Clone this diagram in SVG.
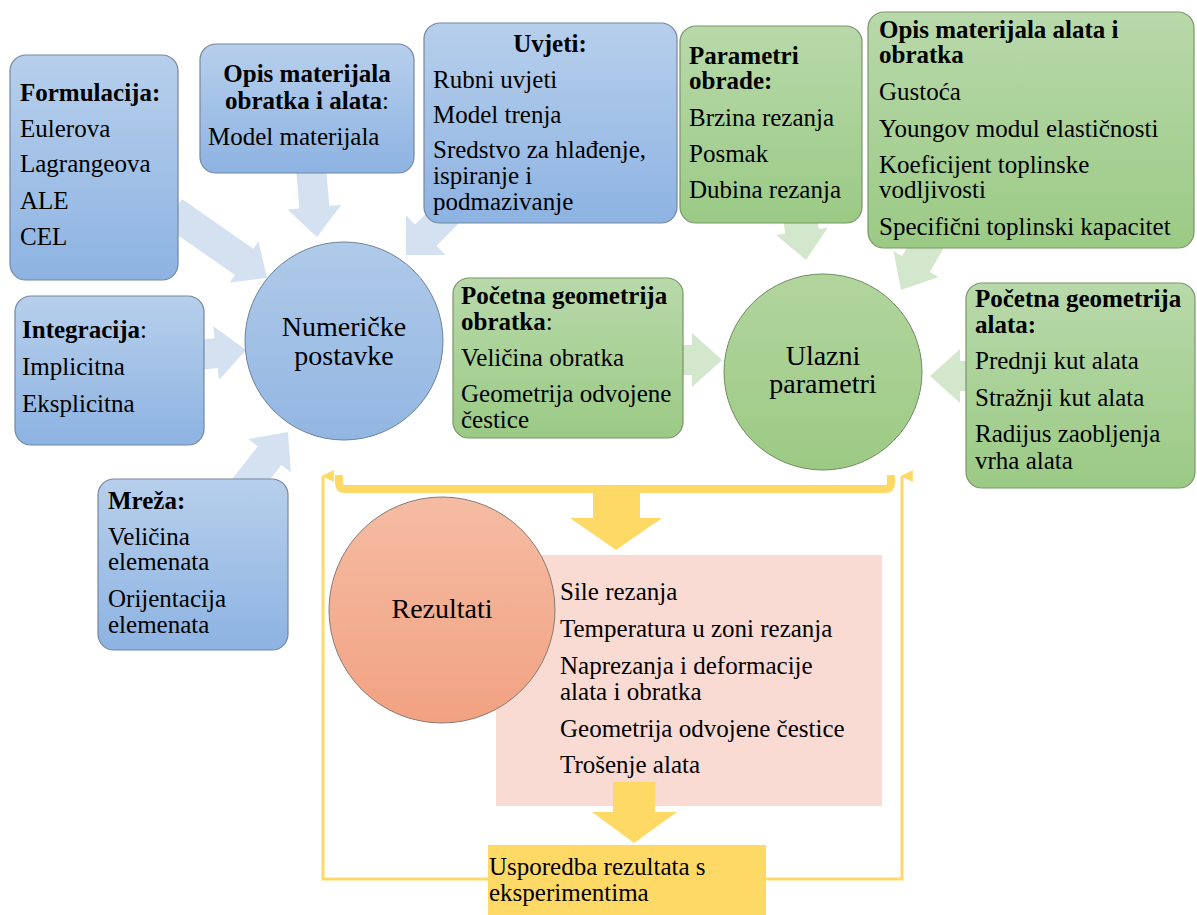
<svg xmlns="http://www.w3.org/2000/svg" width="1197" height="915" viewBox="0 0 1197 915" font-family="Liberation Serif, Times New Roman, DejaVu Serif, serif">
<defs>
<linearGradient id="gBlue" x1="0" y1="0" x2="0" y2="1"><stop offset="0" stop-color="#b7cfec"/><stop offset="1" stop-color="#8db3e2"/></linearGradient>
<linearGradient id="gGreen" x1="0" y1="0" x2="0" y2="1"><stop offset="0" stop-color="#b8d9aa"/><stop offset="1" stop-color="#9bca85"/></linearGradient>
<linearGradient id="gBlueC" x1="0" y1="0" x2="0" y2="1"><stop offset="0" stop-color="#b0cae9"/><stop offset="1" stop-color="#92b6e2"/></linearGradient>
<linearGradient id="gGreenC" x1="0" y1="0" x2="0" y2="1"><stop offset="0" stop-color="#b2d59e"/><stop offset="1" stop-color="#9cca84"/></linearGradient>
<linearGradient id="gRed" x1="0" y1="0" x2="0" y2="1"><stop offset="0" stop-color="#f5bca3"/><stop offset="1" stop-color="#f2a282"/></linearGradient>
<marker id="ya" viewBox="0 0 10 10" refX="5" refY="1" markerWidth="12" markerHeight="14" markerUnits="userSpaceOnUse" orient="auto-start-reverse">
<path d="M0,10 L5,0 L10,10 Z" fill="#ffd966"/>
</marker>
</defs>
<style>
text{font-family:'Liberation Serif','Times New Roman','DejaVu Serif',serif}
.t{font-size:25px;fill:#000}
.b{font-weight:bold}
.n{font-weight:normal}
.c{text-anchor:middle}
.big{font-size:28px}
.bb{fill:url(#gBlue);stroke:#7487a0;stroke-width:1.2}
.gb{fill:url(#gGreen);stroke:#7a9669;stroke-width:1.2}
.ba{fill:#d4e1f1}
.ga{fill:#d3e7cd}
.ya{fill:#ffd966}
.yl{fill:none;stroke:#ffd966;stroke-width:3}
</style>
<rect width="1197" height="915" fill="#fff"/>

<g id="results-list">
<rect x="496" y="555" width="386" height="251" fill="#f9dbd3"/>
<text class="t" x="560" y="600">Sile rezanja</text>
<text class="t" x="560" y="637">Temperatura u zoni rezanja</text>
<text class="t" x="560" y="674">Naprezanja i deformacije</text>
<text class="t" x="560" y="700">alata i obratka</text>
<text class="t" x="560" y="737">Geometrija odvojene čestice</text>
<text class="t" x="560" y="773">Trošenje alata</text>
</g>

<g id="connectors">
<polygon class="ba" transform="translate(267,278) rotate(35)" points="0,0 -28,-25 -28,-16 -115,-16 -115,16 -28,16 -28,25"/>
<polygon class="ba" transform="translate(317,237) rotate(85)" points="0,0 -30,-27 -30,-15 -72,-15 -72,15 -30,15 -30,27"/>
<polygon class="ba" transform="translate(406,255) rotate(135)" points="0,0 -28,-28 -28,-15 -62,-15 -62,15 -28,15 -28,28"/>
<polygon class="ba" transform="translate(246,350) rotate(-6)" points="0,0 -30,-27 -30,-15 -50,-15 -50,15 -30,15 -30,27"/>
<polygon class="ba" transform="translate(288,432) rotate(-52)" points="0,0 -30,-27 -30,-15 -75,-15 -75,15 -30,15 -30,27"/>
<polygon class="ga" transform="translate(806,260) rotate(82)" points="0,0 -29,-26 -29,-17 -50,-17 -50,17 -29,17 -29,26"/>
<polygon class="ga" transform="translate(901,290) rotate(120)" points="0,0 -30,-26 -30,-16 -60,-16 -60,16 -30,16 -30,26"/>
<polygon class="ga" transform="translate(722,360)" points="0,0 -30,-27 -30,-15 -45,-15 -45,15 -30,15 -30,27"/>
<polygon class="ga" transform="translate(930,376) rotate(180)" points="0,0 -30,-27 -30,-15 -45,-15 -45,15 -30,15 -30,27"/>
<path d="M339,475 V483 Q339,489 345,489 H885 Q891,489 891,483 V475" fill="none" stroke="#ffd966" stroke-width="8"/>
<polygon class="ya" points="593,489 640,489 640,518 662,518 616,550 570,518 593,518"/>
<polygon class="ya" points="613,782 655,782 655,812 677,812 634,843 592,812 613,812"/>
<path class="yl" d="M488,879 H323 V476" marker-end="url(#ya)"/>
<path class="yl" d="M766,879 H902 V476" marker-end="url(#ya)"/>
</g>

<g id="formulacija">
<rect class="bb" x="10" y="55" width="168" height="225" rx="16"/>
<text class="t b" x="20" y="101">Formulacija:</text>
<text class="t" x="20" y="137">Eulerova</text>
<text class="t" x="20" y="172">Lagrangeova</text>
<text class="t" x="20" y="209">ALE</text>
<text class="t" x="20" y="245">CEL</text>
</g>

<g id="opis-materijala-obratka">
<rect class="bb" x="200" y="44" width="214" height="129" rx="16"/>
<text class="t b c" x="307" y="82">Opis materijala</text>
<text class="t b c" x="307" y="109">obratka i alata<tspan class="n">:</tspan></text>
<text class="t" x="208" y="145">Model materijala</text>
</g>

<g id="uvjeti">
<rect class="bb" x="424" y="23" width="253" height="200" rx="16"/>
<text class="t b c" x="550" y="52">Uvjeti:</text>
<text class="t" x="433" y="88">Rubni uvjeti</text>
<text class="t" x="433" y="123">Model trenja</text>
<text class="t" x="433" y="158">Sredstvo za hlađenje,</text>
<text class="t" x="433" y="184">ispiranje i</text>
<text class="t" x="433" y="210">podmazivanje</text>
</g>

<g id="parametri-obrade">
<rect class="gb" x="680" y="26" width="182" height="197" rx="16"/>
<text class="t b" x="689" y="64">Parametri</text>
<text class="t b" x="689" y="89">obrade:</text>
<text class="t" x="689" y="126">Brzina rezanja</text>
<text class="t" x="689" y="162">Posmak</text>
<text class="t" x="689" y="198">Dubina rezanja</text>
</g>

<g id="opis-materijala-alata">
<rect class="gb" x="868" y="12" width="326" height="236" rx="16"/>
<text class="t b" x="879" y="38">Opis materijala alata i</text>
<text class="t b" x="879" y="63">obratka</text>
<text class="t" x="879" y="100">Gustoća</text>
<text class="t" x="879" y="137">Youngov modul elastičnosti</text>
<text class="t" x="879" y="173">Koeficijent toplinske</text>
<text class="t" x="879" y="198">vodljivosti</text>
<text class="t" x="879" y="235">Specifični toplinski kapacitet</text>
</g>

<g id="integracija">
<rect class="bb" x="15" y="296" width="189" height="149" rx="16"/>
<text class="t b" x="22" y="338">Integracija<tspan class="n">:</tspan></text>
<text class="t" x="22" y="375">Implicitna</text>
<text class="t" x="22" y="412">Eksplicitna</text>
</g>

<g id="numericke-postavke">
<circle cx="344" cy="341" r="99" fill="url(#gBlueC)" stroke="#6d819b" stroke-width="1"/>
<text class="t c big" x="344" y="336">Numeričke</text>
<text class="t c big" x="344" y="365">postavke</text>
</g>

<g id="pocetna-geometrija-obratka">
<rect class="gb" x="453" y="278" width="230" height="160" rx="16"/>
<text class="t b" x="461" y="304">Početna geometrija</text>
<text class="t b" x="461" y="330">obratka<tspan class="n">:</tspan></text>
<text class="t" x="461" y="366">Veličina obratka</text>
<text class="t" x="461" y="402">Geometrija odvojene</text>
<text class="t" x="461" y="428">čestice</text>
</g>

<g id="ulazni-parametri">
<ellipse cx="823" cy="372" rx="99" ry="98" fill="url(#gGreenC)" stroke="#6f8c5f" stroke-width="1"/>
<text class="t c big" x="823" y="365">Ulazni</text>
<text class="t c big" x="823" y="393">parametri</text>
</g>

<g id="pocetna-geometrija-alata">
<rect class="gb" x="966" y="283" width="229" height="205" rx="16"/>
<text class="t b" x="975" y="307">Početna geometrija</text>
<text class="t b" x="975" y="333">alata:</text>
<text class="t" x="975" y="369">Prednji kut alata</text>
<text class="t" x="975" y="406">Stražnji kut alata</text>
<text class="t" x="975" y="442">Radijus zaobljenja</text>
<text class="t" x="975" y="469">vrha alata</text>
</g>

<g id="mreza">
<rect class="bb" x="98" y="479" width="190" height="171" rx="16"/>
<text class="t b" x="108" y="509">Mreža:</text>
<text class="t" x="108" y="545">Veličina</text>
<text class="t" x="108" y="570">elemenata</text>
<text class="t" x="108" y="607">Orijentacija</text>
<text class="t" x="108" y="633">elemenata</text>
</g>

<g id="rezultati">
<circle cx="442" cy="610" r="113" fill="url(#gRed)" stroke="#8a7a72" stroke-width="1"/>
<text class="t c big" x="442" y="618">Rezultati</text>
</g>

<g id="usporedba">
<rect x="488" y="845" width="278" height="70" fill="#ffd966"/>
<text class="t" x="489" y="875">Usporedba rezultata s</text>
<text class="t" x="489" y="901">eksperimentima</text>
</g>
</svg>
